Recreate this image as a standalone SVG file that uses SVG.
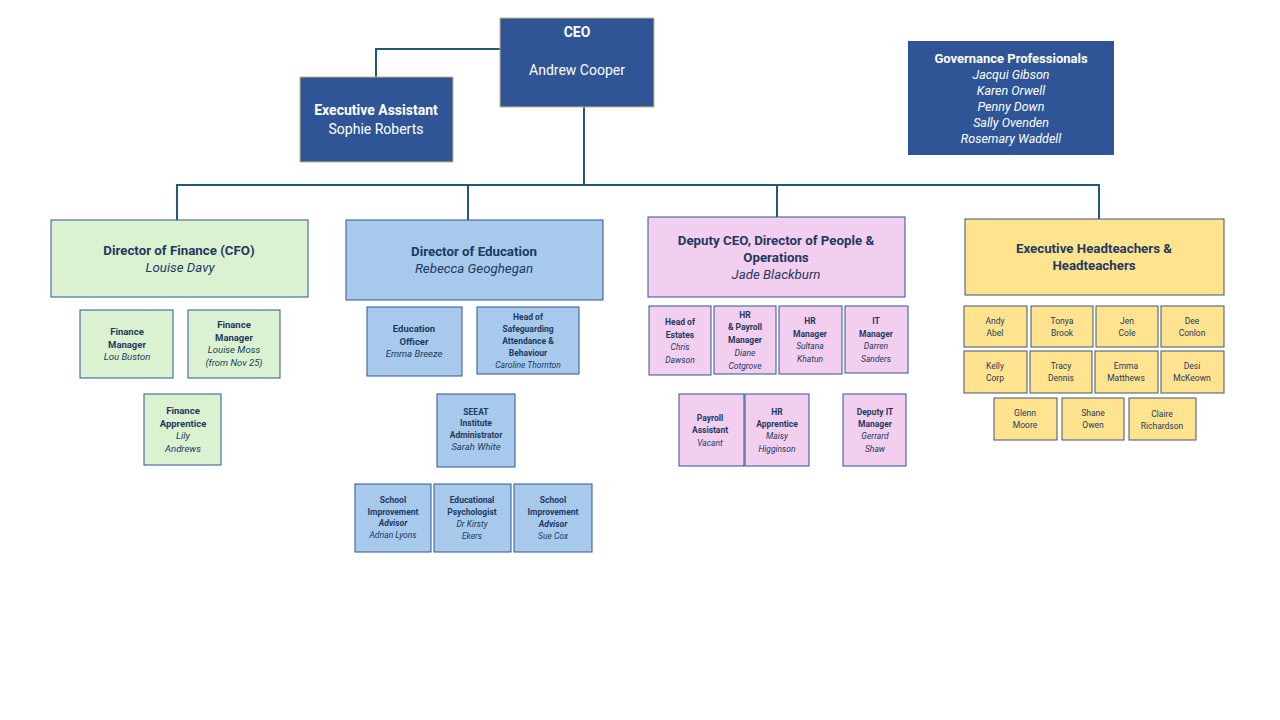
<svg xmlns="http://www.w3.org/2000/svg" width="1280" height="720" viewBox="0 0 1280 720">
<style>
text{font-family:Roboto,"Liberation Sans",sans-serif;text-anchor:middle;fill:#1F3A60}
.w{fill:#fff}
.b{font-weight:bold}
.i{font-style:italic}
.dk{fill:#2F5597;stroke:#C9B77E;stroke-width:1}
.gv{fill:#2F5597}
.g{fill:#DAF2D0;stroke:#2F5597;stroke-width:1}
.bl{fill:#A6C9EC;stroke:#2F5597;stroke-width:1}
.p{fill:#F2CEEF;stroke:#2F5597;stroke-width:1}
.y{fill:#FFE38F;stroke:#3F5670;stroke-width:1}
.c{fill:none;stroke:#1F5A78;stroke-width:2}
.h{font-size:13.3px}
.s{font-size:9.5px}
.t{font-size:8.5px}
</style>
<rect width="1280" height="720" fill="#fff"/>
<g id="connectors">
<path class="c" d="M500 49H376V77"/>
<path class="c" d="M584 107V186"/>
<path class="c" d="M177 220V185H1099V219"/>
<path class="c" d="M468 185V220"/>
<path class="c" d="M777 185V217"/>
</g>
<g id="ceo"><rect class="dk" x="500" y="18" width="154" height="89"/>
<text class="w b" x="577" y="37" font-size="14">CEO</text>
<text class="w" x="577" y="75" font-size="14">Andrew Cooper</text></g>
<g id="ea"><rect class="dk" x="300" y="77" width="153" height="85"/>
<text class="w b" x="376" y="115" font-size="14">Executive Assistant</text>
<text class="w" x="376" y="134" font-size="14">Sophie Roberts</text></g>
<g id="gov"><rect class="gv" x="908" y="41" width="206" height="114"/>
<text class="w b" x="1011" y="63" font-size="13">Governance Professionals</text>
<text class="w i" x="1011" y="79" font-size="12.5">Jacqui Gibson</text>
<text class="w i" x="1011" y="95" font-size="12.5">Karen Orwell</text>
<text class="w i" x="1011" y="111" font-size="12.5">Penny Down</text>
<text class="w i" x="1011" y="127" font-size="12.5">Sally Ovenden</text>
<text class="w i" x="1011" y="143" font-size="12.5">Rosemary Waddell</text></g>
<g id="dof"><rect class="g" x="51" y="220" width="257" height="77"/>
<text class="h b" x="179" y="255">Director of Finance (CFO)</text>
<text class="h i" x="180" y="272">Louise Davy</text></g>
<g id="doe"><rect class="bl" x="346" y="220" width="257" height="80"/>
<text class="h b" x="474" y="256">Director of Education</text>
<text class="h i" x="474" y="273">Rebecca Geoghegan</text></g>
<g id="dceo"><rect class="p" x="648" y="217" width="257" height="80"/>
<text class="h b" x="776" y="245">Deputy CEO, Director of People &amp;</text>
<text class="h b" x="776" y="262">Operations</text>
<text class="h i" x="776" y="279">Jade Blackburn</text></g>
<g id="eht"><rect class="y" x="965" y="219" width="259" height="76"/>
<text class="h b" x="1094" y="253">Executive Headteachers &amp;</text>
<text class="h b" x="1094" y="270">Headteachers</text></g>
<g id="fm1"><rect class="g" x="80" y="310" width="93" height="68"/>
<text class="s b" x="127" y="335">Finance</text><text class="s b" x="127" y="348">Manager</text><text class="s i" x="127" y="360">Lou Buston</text></g>
<g id="fm2"><rect class="g" x="188" y="310" width="92" height="68"/>
<text class="s b" x="234" y="328">Finance</text><text class="s b" x="234" y="341">Manager</text><text class="s i" x="234" y="353">Louise Moss</text><text class="s i" x="234" y="366">(from Nov 25)</text></g>
<g id="fa"><rect class="g" x="144" y="394" width="77" height="71"/>
<text class="s b" x="183" y="414">Finance</text><text class="s b" x="183" y="427">Apprentice</text><text class="s i" x="183" y="439">Lily</text><text class="s i" x="183" y="452">Andrews</text></g>
<g id="eo"><rect class="bl" x="367" y="307" width="95" height="69"/>
<text class="s b" x="414" y="332">Education</text><text class="s b" x="414" y="345">Officer</text><text class="s i" x="414" y="357">Emma Breeze</text></g>
<g id="hos"><rect class="bl" x="477" y="307" width="102" height="67"/>
<text class="t b" x="528" y="320">Head of</text><text class="t b" x="528" y="332">Safeguarding</text><text class="t b" x="528" y="344">Attendance &amp;</text><text class="t b" x="528" y="356">Behaviour</text><text class="t i" x="528" y="368">Caroline Thornton</text></g>
<g id="seeat"><rect class="bl" x="437" y="394" width="78" height="73"/>
<text class="t b" x="476" y="415">SEEAT</text><text class="t b" x="476" y="426">Institute</text><text class="t b" x="476" y="438">Administrator</text><text class="s i" x="476" y="450">Sarah White</text></g>
<g id="sia1"><rect class="bl" x="355" y="484" width="76" height="68"/>
<text class="t b" x="393" y="503">School</text><text class="t b" x="393" y="515">Improvement</text><text class="t b i" x="393" y="526">Advisor</text><text class="t i" x="393" y="538">Adrian Lyons</text></g>
<g id="ep"><rect class="bl" x="434" y="484" width="77" height="68"/>
<text class="t b" x="472" y="503">Educational</text><text class="t b" x="472" y="515">Psychologist</text><text class="t i" x="472" y="527">Dr Kirsty</text><text class="t i" x="472" y="539">Ekers</text></g>
<g id="sia2"><rect class="bl" x="514" y="484" width="78" height="68"/>
<text class="t b" x="553" y="503">School</text><text class="t b" x="553" y="515">Improvement</text><text class="t b i" x="553" y="527">Advisor</text><text class="t i" x="553" y="539">Sue Cox</text></g>
<g id="hoe"><rect class="p" x="649" y="306" width="62" height="69"/>
<text class="t b" x="680" y="325">Head of</text><text class="t b" x="680" y="338">Estates</text><text class="t i" x="680" y="350">Chris</text><text class="t i" x="680" y="363">Dawson</text></g>
<g id="hrpm"><rect class="p" x="714" y="306" width="62" height="68"/>
<text class="t b" x="745" y="318">HR</text><text class="t b" x="745" y="330">&amp; Payroll</text><text class="t b" x="745" y="343">Manager</text><text class="t i" x="745" y="356">Diane</text><text class="t i" x="745" y="369">Cotgrove</text></g>
<g id="hrm"><rect class="p" x="779" y="306" width="63" height="68"/>
<text class="t b" x="810" y="324">HR</text><text class="t b" x="810" y="337">Manager</text><text class="t i" x="810" y="349">Sultana</text><text class="t i" x="810" y="362">Khatun</text></g>
<g id="itm"><rect class="p" x="845" y="306" width="63" height="67"/>
<text class="t b" x="876" y="324">IT</text><text class="t b" x="876" y="337">Manager</text><text class="t i" x="876" y="349">Darren</text><text class="t i" x="876" y="362">Sanders</text></g>
<g id="pa"><rect class="p" x="679" y="394" width="65" height="72"/>
<text class="t b" x="710" y="421">Payroll</text><text class="t b" x="710" y="433">Assistant</text><text class="t i" x="710" y="446">Vacant</text></g>
<g id="hra"><rect class="p" x="745" y="394" width="64" height="72"/>
<text class="t b" x="777" y="415">HR</text><text class="t b" x="777" y="427" font-size="7.5">Apprentice</text><text class="t i" x="777" y="439">Maisy</text><text class="t i" x="777" y="452">Higginson</text></g>
<g id="ditm"><rect class="p" x="843" y="394" width="63" height="72"/>
<text class="t b" x="875" y="415">Deputy IT</text><text class="t b" x="875" y="427">Manager</text><text class="t i" x="875" y="439">Gerrard</text><text class="t i" x="875" y="452">Shaw</text></g>
<g id="ht1"><rect class="y" x="964" y="306" width="63" height="41"/><text class="t" x="995" y="324">Andy</text><text class="t" x="995" y="336">Abel</text></g>
<g id="ht2"><rect class="y" x="1031" y="306" width="62" height="41"/><text class="t" x="1062" y="324">Tonya</text><text class="t" x="1062" y="336">Brook</text></g>
<g id="ht3"><rect class="y" x="1096" y="306" width="62" height="41"/><text class="t" x="1127" y="324">Jen</text><text class="t" x="1127" y="336">Cole</text></g>
<g id="ht4"><rect class="y" x="1161" y="306" width="63" height="41"/><text class="t" x="1192" y="324">Dee</text><text class="t" x="1192" y="336">Conlon</text></g>
<g id="ht5"><rect class="y" x="964" y="351" width="63" height="42"/><text class="t" x="995" y="369">Kelly</text><text class="t" x="995" y="381">Corp</text></g>
<g id="ht6"><rect class="y" x="1030" y="351" width="62" height="42"/><text class="t" x="1061" y="369">Tracy</text><text class="t" x="1061" y="381">Dennis</text></g>
<g id="ht7"><rect class="y" x="1095" y="351" width="63" height="42"/><text class="t" x="1126" y="369">Emma</text><text class="t" x="1126" y="381">Matthews</text></g>
<g id="ht8"><rect class="y" x="1161" y="351" width="63" height="42"/><text class="t" x="1192" y="369">Desi</text><text class="t" x="1192" y="381">McKeown</text></g>
<g id="ht9"><rect class="y" x="994" y="398" width="63" height="42"/><text class="t" x="1025" y="416">Glenn</text><text class="t" x="1025" y="428">Moore</text></g>
<g id="ht10"><rect class="y" x="1062" y="398" width="62" height="42"/><text class="t" x="1093" y="416">Shane</text><text class="t" x="1093" y="428">Owen</text></g>
<g id="ht11"><rect class="y" x="1129" y="398" width="67" height="42"/><text class="t" x="1162" y="417" font-size="7.5">Claire</text><text class="t" x="1162" y="429" font-size="7.5">Richardson</text></g>
</svg>
